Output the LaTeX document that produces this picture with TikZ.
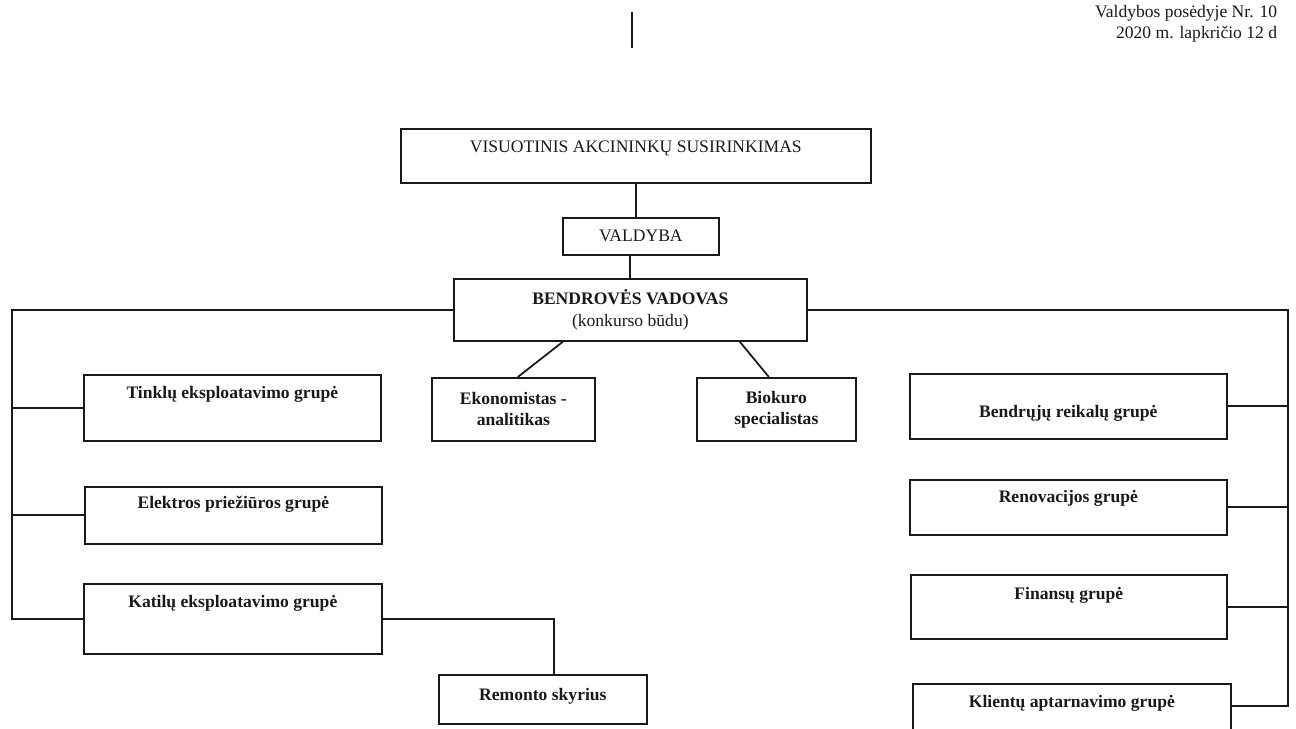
\documentclass[tikz,border=0pt]{standalone}
\usepackage{fontspec}
\setmainfont{Liberation Serif}
\begin{document}
\begin{tikzpicture}[x=0.02cm, y=-0.02cm, line width=1pt, color=black!90,
		every node/.style={inner sep=0pt},
		plain/.style={draw, anchor=north west},
		box/.style={plain, font=\bfseries}]
		\useasboundingbox (0,0) rectangle (1296,729);
		\node[anchor=north east, align=right] (header) at (1278,4) {Valdybos posėdyje Nr. 10\\2020 m. lapkričio 12 d};
		
		\node[plain, minimum width=9.4cm, text height=0.48cm, text depth=0.6cm] (vis) at (400,128) {VISUOTINIS AKCININKŲ SUSIRINKIMAS};
		\node[plain, minimum width=3.12cm, text height=0.48cm, text depth=0.26cm] (valdyba) at (562,217) {VALDYBA};
		\node[plain, align=center, minimum width=7.06cm, minimum height=1.24cm] (vadovas) at (453,278) {\textbf{BENDROVĖS VADOVAS}\\(konkurso būdu)};
		\node[box, align=center, minimum width=3.26cm, minimum height=1.26cm] (ekon) at (431,377) {Ekonomistas -\\analitikas};
		\node[box, align=center, minimum width=3.18cm, minimum height=1.26cm] (bio) at (696,377) {Biokuro\\specialistas};
		
		\node[box, minimum width=5.94cm, text height=0.48cm, text depth=0.84cm] (tinklu) at (83,374) {Tinklų eksploatavimo grupė};
		\node[box, minimum width=5.94cm, text height=0.44cm, text depth=0.7cm] (elektros) at (84,486) {Elektros priežiūros grupė};
		\node[box, minimum width=5.96cm, text height=0.48cm, text depth=0.92cm] (katilu) at (83,583) {Katilų eksploatavimo grupė};
		\node[box, minimum width=4.16cm, text height=0.52cm, text depth=0.46cm] (remontas) at (438,674) {Remonto skyrius};
		
		\node[box, minimum width=6.34cm, text height=0.88cm, text depth=0.42cm] (bendruju) at (909,373) {Bendrųjų reikalų grupė};
		\node[box, minimum width=6.34cm, text height=0.46cm, text depth=0.64cm] (renovacija) at (909,479) {Renovacijos grupė};
		\node[box, minimum width=6.32cm, text height=0.5cm, text depth=0.78cm] (finansai) at (910,574) {Finansų grupė};
		\node[box, minimum width=6.36cm, text height=0.48cm, text depth=0.76cm] (klientai) at (912,683) {Klientų aptarnavimo grupė};
		
		\coordinate (top1) at (632,12);
		\coordinate (top2) at (632,48);
		\coordinate (lbus) at (12,400);
		\coordinate (rbus) at (1288,400);
		
		\draw (top1)--(top2);
		\draw (vis.south)--(vis.south |- valdyba.north);
		\draw (vadovas.north |- valdyba.south)--(vadovas.north);
		\draw ([xshift=-1.35cm]vadovas.south)--([xshift=0.09cm]ekon.north);
		\draw ([xshift=2.19cm]vadovas.south)--([xshift=-0.15cm]bio.north);
		\draw (vadovas.west) -| (lbus) |- (katilu.west);
		\draw (vadovas.east) -| (rbus) |- ([yshift=0.18cm]klientai.east);
		\foreach \n in {tinklu, elektros}
			\draw (\n.west)--(\n.west -| lbus);
		\foreach \n in {bendruju, renovacija, finansai}
			\draw (\n.east)--(\n.east -| rbus);
		\draw (katilu.east) -| ([xshift=0.22cm]remontas.north);
	\end{tikzpicture}
\end{document}
